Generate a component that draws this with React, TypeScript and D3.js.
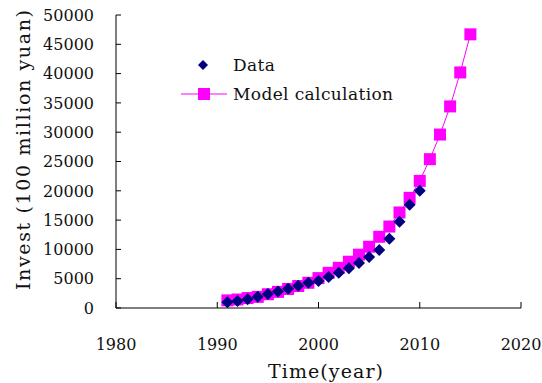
import React from 'react';
import * as d3 from 'd3';

// observed investment data (1991-2010)
const dataYears = [1991, 1992, 1993, 1994, 1995, 1996, 1997, 1998, 1999, 2000,
  2001, 2002, 2003, 2004, 2005, 2006, 2007, 2008, 2009, 2010];
const dataValues = [1000, 1200, 1500, 1900, 2400, 2800, 3300, 3800, 4300, 4600,
  5300, 6000, 6800, 7700, 8700, 9900, 11800, 14700, 17600, 20000];

// model calculation (1991-2015)
const modelYears = [1991, 1992, 1993, 1994, 1995, 1996, 1997, 1998, 1999, 2000,
  2001, 2002, 2003, 2004, 2005, 2006, 2007, 2008, 2009, 2010,
  2011, 2012, 2013, 2014, 2015];
const modelValues = [1300, 1450, 1700, 1900, 2350, 2750, 3250, 3750, 4300, 5100,
  6000, 6850, 7900, 9100, 10450, 12150, 13900, 16300, 18800, 21700,
  25400, 29600, 34400, 40200, 46700];

const xTicks = [1980, 1990, 2000, 2010, 2020];
const yTicks = [0, 5000, 10000, 15000, 20000, 25000, 30000, 35000, 40000, 45000, 50000];

const W = 542;
const H = 383;
const font = "'DejaVu Serif', serif";

export default function App() {
  const x = d3.scaleLinear().domain([1980, 2020]).range([116, 521]);
  const y = d3.scaleLinear().domain([0, 50000]).range([308, 15]);

  const model = modelYears.map((yr, i) => [yr, modelValues[i]] as [number, number]);
  const data = dataYears.map((yr, i) => [yr, dataValues[i]] as [number, number]);

  const line = d3.line<[number, number]>()
    .x(d => x(d[0]))
    .y(d => y(d[1]));

  const diamond = (cx: number, cy: number, r = 6) =>
    `M${cx},${cy - r}L${cx + r},${cy}L${cx},${cy + r}L${cx - r},${cy}Z`;

  return (
    <svg width={W} height={H} style={{ position: 'absolute', left: 0, top: 0, background: '#fff' }}>
      {/* axes */}
      <line x1={116} x2={116} y1={y(50000)} y2={y(0)} stroke="#000" strokeWidth={1} />
      <line x1={116} x2={521} y1={y(0)} y2={y(0)} stroke="#000" strokeWidth={1} />
      {yTicks.map(t => (
        <g key={t}>
          <line x1={116} x2={121} y1={y(t)} y2={y(t)} stroke="#000" />
          <text x={94} y={y(t)} dy="0.36em" textAnchor="end" fontFamily={font} fontSize={16} fill="#111">{t}</text>
        </g>
      ))}
      {xTicks.map(t => (
        <g key={t}>
          <line x1={x(t)} x2={x(t)} y1={y(0)} y2={y(0) - 6} stroke="#000" />
          <text x={x(t)} y={350} textAnchor="middle" fontFamily={font} fontSize={16} fill="#111">{t}</text>
        </g>
      ))}
      <text x={268} y={378} textLength={115} lengthAdjust="spacing" fontFamily={font} fontSize={19} fill="#111">Time(year)</text>
      <text transform="translate(30,290) rotate(-90)" textLength={280} lengthAdjust="spacing" fontFamily={font} fontSize={19} fill="#111">Invest (100 million yuan)</text>

      {/* model line + squares */}
      <path d={line(model) || ''} fill="none" stroke="#ff00ff" strokeWidth={1} />
      {model.map((d, i) => (
        <rect key={i} x={x(d[0]) - 6} y={y(d[1]) - 6} width={12} height={12} fill="#ff00ff" />
      ))}
      {/* data diamonds */}
      {data.map((d, i) => (
        <path key={i} d={diamond(x(d[0]), y(d[1]))} fill="#000080" />
      ))}

      {/* legend */}
      <path d={diamond(203, 65, 5)} fill="#000080" />
      <text x={233} y={71} textLength={42} lengthAdjust="spacing" fontFamily={font} fontSize={17} fill="#111">Data</text>
      <line x1={181} x2={227} y1={94} y2={94} stroke="#ff00ff" />
      <rect x={198} y={88} width={12} height={12} fill="#ff00ff" />
      <text x={233} y={100} textLength={160} lengthAdjust="spacing" fontFamily={font} fontSize={17} fill="#111">Model calculation</text>
    </svg>
  );
}
